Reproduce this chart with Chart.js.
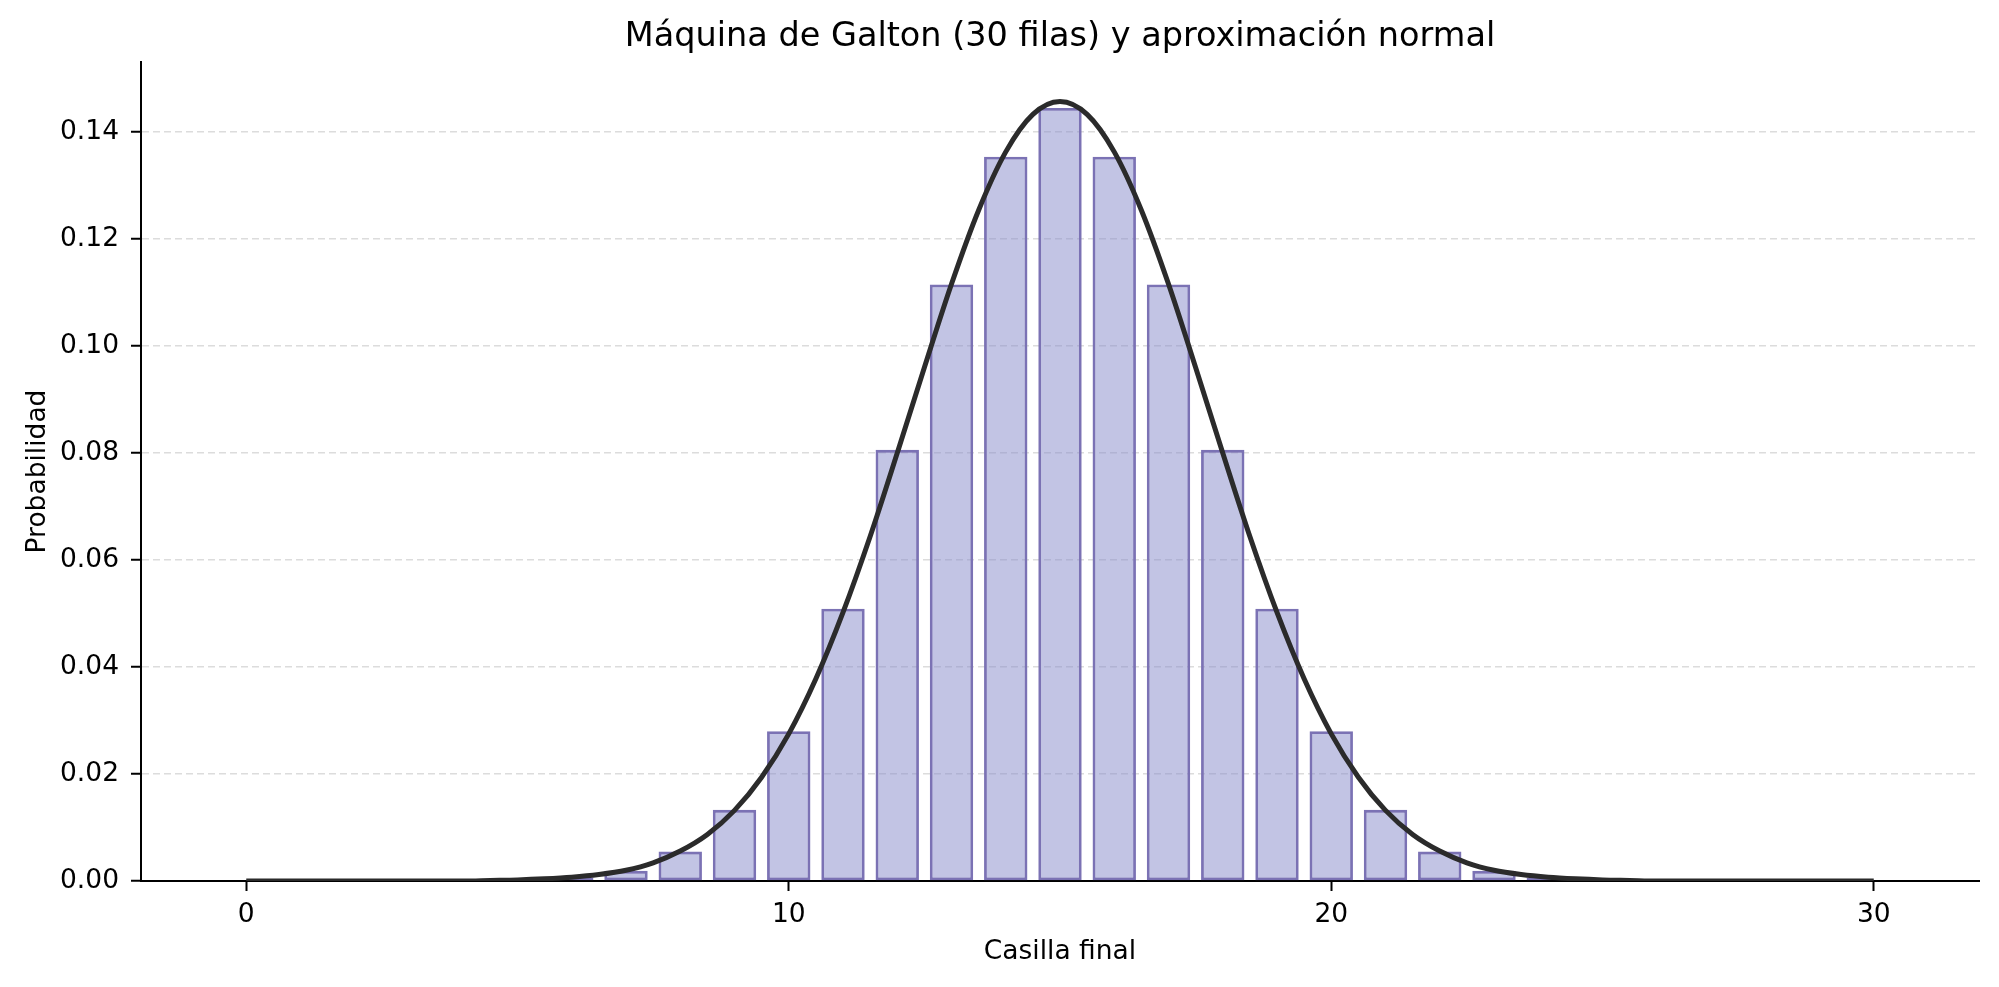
<!DOCTYPE html>
<html>
<head>
<meta charset="utf-8">
<script src="https://cdn.jsdelivr.net/npm/chart.js@4/dist/chart.umd.min.js"></script>
<style>
  html, body { margin: 0; padding: 0; background: #fff; }
  #wrap { width: 1999px; height: 987px; }
</style>
</head>
<body>
<div id="wrap"><canvas id="galtonChart"></canvas></div>
<script>
// Casillas finales (0..30) y probabilidad observada en cada una
const casillas = [0, 1, 2, 3, 4, 5, 6, 7, 8, 9, 10, 11, 12, 13, 14, 15,
  16, 17, 18, 19, 20, 21, 22, 23, 24, 25, 26, 27, 28, 29, 30];
const probabilidades = [0, 0, 0, 0, 0, 0.0001, 0.0006, 0.0019, 0.0055, 0.0133, 0.0280,
  0.0509, 0.0806, 0.1115, 0.1354, 0.1445, 0.1354, 0.1115, 0.0806, 0.0509, 0.0280,
  0.0133, 0.0055, 0.0019, 0.0006, 0.0001, 0, 0, 0, 0, 0];

// Curva normal (x cada media casilla)
const curvaX = [0, 0.5, 1, 1.5, 2, 2.5, 3, 3.5, 4, 4.5, 5, 5.5, 6, 6.5, 7, 7.5, 8, 8.5, 9, 9.5,
  10, 10.5, 11, 11.5, 12, 12.5, 13, 13.5, 14, 14.5, 15, 15.5, 16, 16.5, 17, 17.5, 18, 18.5,
  19, 19.5, 20, 20.5, 21, 21.5, 22, 22.5, 23, 23.5, 24, 24.5, 25, 25.5, 26, 26.5, 27, 27.5,
  28, 28.5, 29, 29.5, 30];
const curvaY = [0, 0, 0, 0, 0, 0, 0, 0, 0, 0.0001,
  0.0002, 0.0004, 0.0007, 0.0012, 0.0020, 0.0034, 0.0056, 0.0087, 0.0132, 0.0194,
  0.0275, 0.0378, 0.0502, 0.0644, 0.0800, 0.0960, 0.1116, 0.1254, 0.1363, 0.1433,
  0.1457,
  0.1433, 0.1363, 0.1254, 0.1116, 0.0960, 0.0800, 0.0644, 0.0502, 0.0378, 0.0275,
  0.0194, 0.0132, 0.0087, 0.0056, 0.0034, 0.0020, 0.0012, 0.0007, 0.0004, 0.0002,
  0.0001, 0, 0, 0, 0, 0, 0, 0, 0, 0];

const yTicks = [0, 0.02, 0.04, 0.06, 0.08, 0.10, 0.12, 0.14];
const xTicks = [0, 10, 20, 30];

const titulo = 'Máquina de Galton (30 filas) y aproximación normal';
const FONT = 'DejaVu Sans';

// Title centred over the plot area (like matplotlib), not the whole canvas
const axesTitle = {
  id: 'axesTitle',
  afterDraw(chart) {
    const { ctx, chartArea } = chart;
    ctx.save();
    ctx.font = '33.5px "' + FONT + '"';
    ctx.fillStyle = '#000';
    ctx.textAlign = 'center';
    ctx.textBaseline = 'middle';
    ctx.fillText(titulo, (chartArea.left + chartArea.right) / 2, 37);
    ctx.restore();
  }
};

const ctx = document.getElementById('galtonChart');

new Chart(ctx, {
  type: 'bar',
  data: {
    datasets: [
      {
        type: 'line',
        label: 'Normal',
        data: curvaX.map((x, i) => ({ x: x, y: curvaY[i] })),
        borderColor: '#2b2b2b',
        borderWidth: 5,
        pointRadius: 0,
        cubicInterpolationMode: 'monotone',
        fill: false,
        order: 0
      },
      {
        label: 'Galton',
        data: casillas.map((c, i) => ({ x: c, y: probabilidades[i] })),
        backgroundColor: 'rgba(134, 137, 202, 0.5)',
        borderColor: '#7b72b4',
        borderWidth: 2.8,
        borderSkipped: false,
        barPercentage: 0.8,
        categoryPercentage: 1.0,
        order: 1
      }
    ]
  },
  plugins: [axesTitle],
  options: {
    responsive: true,
    maintainAspectRatio: false,
    animation: false,
    devicePixelRatio: 1,
    layout: { padding: { left: 0, right: 20, top: 62, bottom: 0 } },
    plugins: {
      legend: { display: false },
      tooltip: { enabled: false },
      title: { display: false }
    },
    scales: {
      x: {
        type: 'linear',
        min: -1.94,
        max: 31.94,
        offset: false,
        afterFit: function(scale) { scale.height = 106; },
        afterBuildTicks: function(scale) { scale.ticks = xTicks.map(v => ({ value: v })); },
        ticks: {
          color: '#000',
          font: { family: FONT, size: 26.5 },
          padding: 8,
          maxRotation: 0
        },
        grid: {
          display: true,
          offset: false,
          drawOnChartArea: false,
          drawTicks: true,
          tickLength: 10,
          tickColor: '#000',
          tickWidth: 2
        },
        border: { display: true, color: '#000', width: 2 },
        title: {
          display: true,
          text: 'Casilla final',
          color: '#000',
          font: { family: FONT, size: 26.5 },
          padding: { top: 0, bottom: 19 }
        }
      },
      y: {
        min: 0,
        max: 0.1531,
        afterFit: function(scale) { scale.width = 141; },
        afterBuildTicks: function(scale) { scale.ticks = yTicks.map(v => ({ value: v })); },
        ticks: {
          color: '#000',
          font: { family: FONT, size: 26.5 },
          padding: 12,
          callback: function(value) { return Number(value).toFixed(2); }
        },
        grid: {
          color: '#dcdcdc',
          lineWidth: 1.5,
          drawTicks: true,
          tickLength: 10,
          tickColor: '#000',
          tickWidth: 2,
          tickBorderDash: []
        },
        border: { display: true, color: '#000', width: 2, dash: [7, 4] },
        title: {
          display: true,
          text: 'Probabilidad',
          color: '#000',
          font: { family: FONT, size: 26.5 },
          padding: { top: 22, bottom: 0 }
        }
      }
    }
  }
});
</script>
</body>
</html>
